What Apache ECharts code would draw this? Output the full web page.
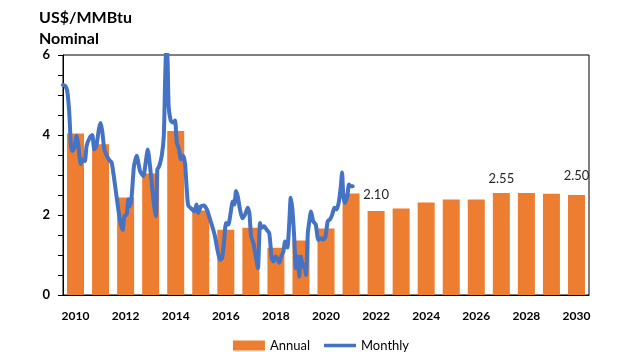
<!DOCTYPE html>
<html>
<head>
<meta charset="utf-8">
<script src="https://cdn.jsdelivr.net/npm/echarts@6/dist/echarts.min.js"></script>
<style>
  html, body { margin: 0; padding: 0; background: #fff; }
  #main { width: 642px; height: 352px; }
</style>
</head>
<body>
<div id="main"></div>
<script>
// annual bars 2010-2030
const years = ['2010', '2011', '2012', '2013', '2014', '2015', '2016', '2017', '2018', '2019', '2020',
  '2021', '2022', '2023', '2024', '2025', '2026', '2027', '2028', '2029', '2030']
const annual = [4.04, 3.77, 2.44, 3.04, 4.10, 2.11, 1.63, 1.68, 1.18, 1.36, 1.66,
  2.54, 2.10, 2.16, 2.31, 2.39, 2.39, 2.55, 2.55, 2.53, 2.50]
const labelledYears = ['2022', '2027', '2030']

// monthly price, months counted from Jan 2010
const monthIdx = [0, 1, 2, 3, 3.8, 4.5, 5.4, 6.5, 7.3, 8.5, 9.4, 10.5, 11.3, 12.9, 14, 15, 16, 17.2, 18, 18.8,
  19.8, 21, 22.2, 23.3, 24.1, 25.2, 26.5, 27.6, 28.6, 29.4, 30.5, 31.3, 32.1, 32.9, 34, 35.3,
  36.9, 38.5, 39.6, 40.6, 41.7, 42.8, 43.7, 44.5, 45.2, 46.1, 47.3, 48.3, 48.9, 49.5, 50.1, 50.6,
  51.6, 52.7, 53.7, 54.5, 55.6, 56.5, 57.6, 58.5, 59.3, 60, 61.7, 62.9, 64, 64.8, 66.1, 67.5, 68.9,
  70.4, 71.7, 72.8, 74, 75.2, 76.2, 77.1, 78.1, 79.2, 80.3, 81.3, 82.1, 82.9, 83.7, 84.8, 85.9,
  87.2, 88.5, 89.3, 90.1, 91.2, 92.5, 93.4, 94.4, 95.2, 96.3, 97.6, 98.8, 100, 100.8, 101.9, 102.9,
  103.6, 104.5, 105.6, 106.4, 107.5, 108.4, 109.1, 109.9, 110.7, 111.6, 112.5, 113.2, 114, 114.9,
  115.6, 116.4, 117.3, 118, 118.8, 119.9, 121.1, 122.3, 123.6, 124.7, 125.8, 126.8, 127.9, 129,
  130, 131.1, 132.2, 133.1, 133.7, 134.3, 135.1, 136.2, 137, 137.9, 138.8]
const monthly = [5.25, 5.23, 5.11, 4.56, 3.73, 3.60, 3.68, 3.98, 3.77, 3.27, 3.39, 3.35, 3.73, 3.94, 4.00, 3.64, 3.73, 4.15, 4.30, 4.10,
  3.64, 3.48, 3.37, 3.31, 3.06, 2.64, 2.14, 1.80, 1.63, 1.97, 2.01, 2.39, 2.22, 2.47, 3.22, 3.48,
  3.10, 2.97, 3.31, 3.64, 3.22, 2.64, 2.22, 1.97, 3.14, 3.22, 3.48, 3.98, 5.32, 6.20, 5.90, 4.73,
  4.36, 4.31, 4.36, 3.81, 3.64, 3.39, 3.48, 3.27, 2.64, 2.24, 2.15, 2.09, 2.26, 2.05, 2.22, 2.24, 2.14,
  1.90, 1.68, 1.47, 1.13, 0.88, 0.92, 1.30, 1.80, 1.76, 2.05, 2.34, 2.26, 2.60, 2.47, 2.14, 1.92,
  2.01, 2.18, 2.05, 1.47, 1.30, 0.92, 0.67, 1.80, 1.68, 1.72, 1.63, 1.55, 0.92, 0.84, 0.96, 0.88,
  0.80, 0.96, 1.09, 1.34, 1.19, 1.80, 2.43, 2.14, 1.51, 0.67, 0.96, 0.46, 0.96, 0.71,
  0.75, 0.50, 1.55, 1.84, 2.09, 1.84, 1.76, 1.38, 1.42, 1.38, 1.47, 1.84, 1.89, 2.01,
  2.18, 2.14, 2.34, 2.72, 3.06, 2.47, 2.30, 2.47, 2.76, 2.72, 2.72]

const yTicks = [0, 2, 4, 6]

const font = 'Lato, "Noto Sans", sans-serif'
const chart = echarts.init(document.getElementById('main'))

const labelGap = { '2022': 10, '2027': 8, '2030': 13 }
const barData = annual.map((v, i) => {
  if (labelledYears.indexOf(years[i]) < 0) return v
  return {
    value: v,
    label: {
      show: true,
      position: 'top',
      distance: labelGap[years[i]],
      formatter: p => p.value.toFixed(2),
      fontFamily: font,
      fontSize: 13,
      color: '#262626'
    }
  }
})

chart.setOption({
  animation: false,
  title: {
    text: 'US$/MMBtu\nNominal',
    left: 34,
    top: 2,
    textStyle: { fontFamily: font, fontSize: 16, fontWeight: 'bold', color: '#000', lineHeight: 21 }
  },
  legend: {
    top: 334,
    left: 'center',
    itemWidth: 32,
    itemHeight: 10,
    itemGap: 14,
    textStyle: { fontFamily: font, fontSize: 13, color: '#000' },
    data: [
      { name: 'Annual', icon: 'rect' },
      { name: 'Monthly', icon: 'path://M0,0 L32,0 L32,3.5 L0,3.5 Z' }
    ]
  },
  grid: {
    left: 63, right: 53, top: 55, bottom: 57,
    show: true, borderColor: '#000', borderWidth: 1
  },
  xAxis: [
    {
      type: 'category',
      data: years,
      axisLine: { lineStyle: { color: '#000', width: 1 } },
      axisTick: { show: false },
      axisLabel: { interval: 1, margin: 15, fontFamily: font, fontSize: 12, fontWeight: 'bold', color: '#000' }
    },
    {
      type: 'value',
      min: 0,
      max: years.length * 12,
      show: false
    }
  ],
  yAxis: {
    type: 'value',
    min: 0,
    max: 6,
    interval: 0.5,
    axisLine: { show: true, lineStyle: { color: '#000', width: 1 } },
    axisTick: { show: true, length: 5, lineStyle: { color: '#000' } },
    splitLine: { show: false },
    axisLabel: {
      margin: 13,
      fontFamily: font, fontSize: 13, fontWeight: 'bold', color: '#000',
      formatter: v => (yTicks.indexOf(v) >= 0 ? String(v) : '')
    }
  },
  series: [
    {
      name: 'Annual',
      type: 'bar',
      barWidth: 17,
      itemStyle: { color: '#ED7D31' },
      data: barData
    },
    {
      name: 'Monthly',
      type: 'line',
      xAxisIndex: 1,
      symbol: 'none',
      smooth: 0.2,
      clip: true,
      lineStyle: { color: '#4472C4', width: 4, cap: 'round', join: 'round' },
      itemStyle: { color: '#4472C4' },
      data: monthIdx.map((m, i) => [m, monthly[i]])
    }
  ]
})
</script>
</body>
</html>
